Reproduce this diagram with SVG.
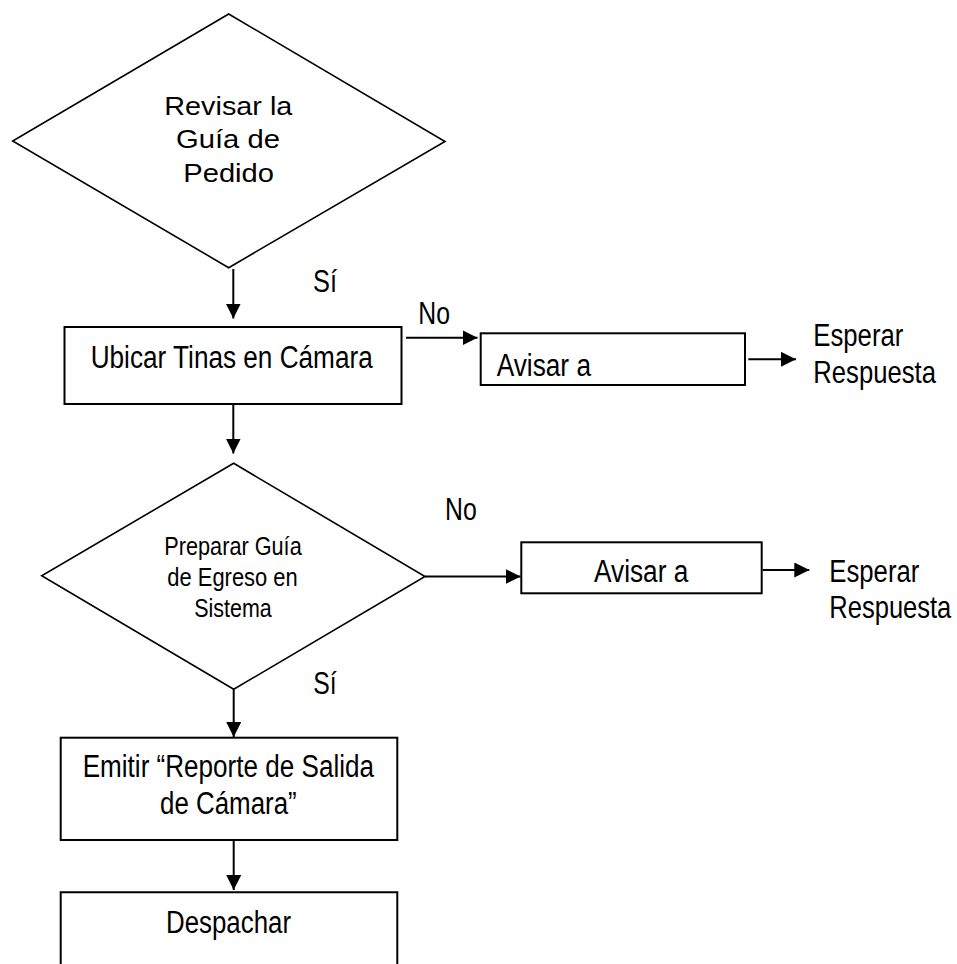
<svg xmlns="http://www.w3.org/2000/svg" width="957" height="964" viewBox="0 0 957 964">
  <style>
    .shape { fill: #ffffff; stroke: #000000; stroke-width: 2; }
    .dia { fill: #ffffff; stroke: #000000; stroke-width: 1.6; }
    .wire { fill: none; stroke: #000000; stroke-width: 2; }
    .t { font-family: "Liberation Sans Narrow", "Liberation Sans", Arial, sans-serif; font-size: 31px; fill: #000000; }
    .ts { font-family: "Liberation Sans Narrow", "Liberation Sans", Arial, sans-serif; font-size: 26px; fill: #000000; }
    .tw { font-family: "Liberation Sans", Arial, sans-serif; font-size: 26px; fill: #000000; }
  </style>
  <defs>
    <marker id="arrow" markerUnits="userSpaceOnUse" markerWidth="15" markerHeight="15" refX="15" refY="7.5" orient="auto">
      <path d="M0,0 L15,7.5 L0,15 Z" fill="#000000"/>
    </marker>
  </defs>
  <rect width="957" height="964" fill="#ffffff"/>

  <!-- connectors -->
  <g id="connectors">
    <line class="wire" x1="233.3" y1="269" x2="233.3" y2="318.5" marker-end="url(#arrow)"/>
    <line class="wire" x1="233.3" y1="404" x2="233.3" y2="453.5" marker-end="url(#arrow)"/>
    <line class="wire" x1="406" y1="337.7" x2="477.5" y2="337.7" marker-end="url(#arrow)"/>
    <line class="wire" x1="748.3" y1="359.3" x2="796" y2="359.3" marker-end="url(#arrow)"/>
    <line class="wire" x1="425" y1="576.5" x2="520.7" y2="576.5" marker-end="url(#arrow)"/>
    <line class="wire" x1="762.7" y1="570" x2="809.3" y2="570" marker-end="url(#arrow)"/>
    <line class="wire" x1="233.7" y1="689.3" x2="233.7" y2="737" marker-end="url(#arrow)"/>
    <line class="wire" x1="233.7" y1="840" x2="233.7" y2="890" marker-end="url(#arrow)"/>
    <text class="t" x="313" y="292.3" textLength="24" lengthAdjust="spacingAndGlyphs">Sí</text>
    <text class="t" x="418.3" y="324" textLength="31.7" lengthAdjust="spacingAndGlyphs">No</text>
    <text class="t" x="445" y="520" textLength="31.7" lengthAdjust="spacingAndGlyphs">No</text>
    <text class="t" x="313.3" y="694.3" textLength="23.4" lengthAdjust="spacingAndGlyphs">Sí</text>
  </g>

  <!-- decision: review the order guide -->
  <g id="revisar">
    <polygon class="dia" points="228.7,14 445,141.5 228.7,267.7 12.7,141"/>
    <text class="tw" x="164.3" y="115" textLength="128" lengthAdjust="spacingAndGlyphs">Revisar la</text>
    <text class="tw" x="176" y="148.3" textLength="104" lengthAdjust="spacingAndGlyphs">Guía de</text>
    <text class="tw" x="183.3" y="182" textLength="90.7" lengthAdjust="spacingAndGlyphs">Pedido</text>
  </g>

  <!-- locate tubs in the cold room -->
  <g id="ubicar">
    <rect class="shape" x="64.5" y="327" width="337" height="77"/>
    <text class="t" x="90.7" y="368.3" textLength="282" lengthAdjust="spacingAndGlyphs">Ubicar Tinas en Cámara</text>
  </g>

  <!-- notify (first branch) -->
  <g id="avisar1">
    <rect class="shape" x="480.7" y="333.3" width="264.3" height="51.7"/>
    <text class="t" x="496.7" y="376" textLength="94.3" lengthAdjust="spacingAndGlyphs">Avisar a</text>
  </g>
  <g id="esperar1">
    <text class="t" x="813.3" y="346" textLength="90" lengthAdjust="spacingAndGlyphs">Esperar</text>
    <text class="t" transform="translate(813.3 383.3) scale(0.82 1)" textLength="149.6" lengthAdjust="spacingAndGlyphs">Respuesta</text>
  </g>

  <!-- decision: prepare exit guide -->
  <g id="preparar">
    <polygon class="dia" points="233.7,463.3 425,576.5 233.7,689.3 41.7,575.7"/>
    <text class="ts" x="164.3" y="555" textLength="137.4" lengthAdjust="spacingAndGlyphs">Preparar Guía</text>
    <text class="ts" x="167.3" y="585.7" textLength="130.4" lengthAdjust="spacingAndGlyphs">de Egreso en</text>
    <text class="ts" x="194.3" y="616.7" textLength="77.4" lengthAdjust="spacingAndGlyphs">Sistema</text>
  </g>

  <!-- notify (second branch) -->
  <g id="avisar2">
    <rect class="shape" x="521.3" y="542.3" width="240.4" height="51"/>
    <text class="t" x="594" y="581.7" textLength="94.3" lengthAdjust="spacingAndGlyphs">Avisar a</text>
  </g>
  <g id="esperar2">
    <text class="t" x="829.3" y="581.7" textLength="90" lengthAdjust="spacingAndGlyphs">Esperar</text>
    <text class="t" transform="translate(829.3 618.3) scale(0.82 1)" textLength="148.8" lengthAdjust="spacingAndGlyphs">Respuesta</text>
  </g>

  <!-- issue the exit report -->
  <g id="emitir">
    <rect class="shape" x="60.7" y="737.7" width="336.6" height="102.3"/>
    <text class="t" x="82.7" y="776.7" textLength="291.3" lengthAdjust="spacingAndGlyphs">Emitir “Reporte de Salida</text>
    <text class="t" x="160" y="814" textLength="136.7" lengthAdjust="spacingAndGlyphs">de Cámara”</text>
  </g>

  <!-- dispatch -->
  <g id="despachar">
    <path class="shape" d="M60.7,966 V892.3 H397.3 V966"/>
    <text class="t" x="166" y="933.3" textLength="125" lengthAdjust="spacingAndGlyphs">Despachar</text>
  </g>
</svg>
